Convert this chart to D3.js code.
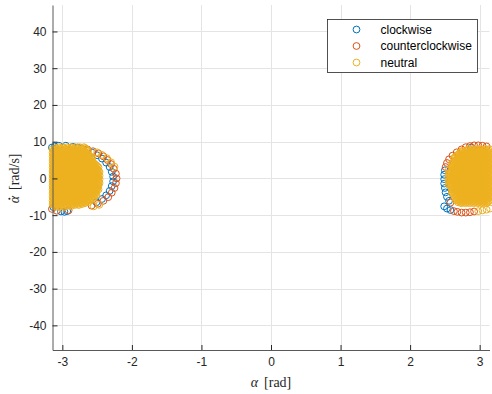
<!DOCTYPE html>
<html>
<head>
<meta charset="utf-8">
<script src="https://cdn.jsdelivr.net/npm/d3@7"></script>
<style>
  html, body { margin: 0; padding: 0; background: #fff; }
  svg { display: block; }
</style>
</head>
<body>
<svg id="chart" width="492" height="394"></svg>
<script>
// Axis ticks
const xTicks = [-3, -2, -1, 0, 1, 2, 3];
const yTicks = [-40, -30, -20, -10, 0, 10, 20, 30, 40];
const alphaLimits = [-Math.PI, Math.PI];
const alphaDotLimits = [-46.7, 47.2];

// Legend entries
const seriesNames = ["clockwise", "counterclockwise", "neutral"];
const seriesColors = ["#0072BD", "#D95319", "#EDB120"];

// Samples near the inverted position, [alpha, alphaDot]
const clockwise = [
  // left cluster, outer orbit
  [-2.72, 8.1], [-2.64, 7.6], [-2.57, 7.0], [-2.50, 6.3], [-2.43, 5.4], [-2.37, 4.3],
  [-2.32, 3.1], [-2.29, 1.8], [-2.27, 0.5], [-2.27, -0.8], [-2.29, -2.1], [-2.32, -3.4],
  [-2.37, -4.6], [-2.43, -5.6], [-2.51, -6.5],
  // left cluster, top and bottom rims
  [-3.15, 8.4], [-3.11, 8.7], [-3.05, 8.9], [-2.95, 8.9], [-2.85, 8.6], [-2.78, 8.4],
  [-3.13, -7.8], [-3.02, -9.0], [-2.97, -9.1], [-2.93, -8.9],
  // right cluster, left rim and bottom
  [2.50, 2.2], [2.49, 1.0], [2.49, -0.2], [2.49, -1.4], [2.50, -2.6], [2.51, -3.8],
  [2.53, -5.0], [2.56, -6.1], [2.49, -7.6], [2.53, -8.2], [2.58, -8.6], [2.88, 8.4]
];

const counterclockwise = [
  // left cluster, outer orbit
  [-2.64, 7.9], [-2.56, 7.4], [-2.48, 6.8], [-2.41, 6.0], [-2.35, 5.0], [-2.30, 3.9],
  [-2.26, 2.6], [-2.23, 1.3], [-2.22, 0.0], [-2.23, -1.3], [-2.25, -2.6], [-2.29, -3.9],
  [-2.34, -5.1], [-2.41, -6.1], [-2.49, -6.9], [-2.58, -7.4],
  // left cluster, bottom rim
  [-3.15, -8.3], [-3.08, -8.8], [-2.91, -8.7],
  // right cluster, top rim and upper-left edge
  [2.80, 8.5], [2.86, 8.8], [2.92, 9.0], [2.98, 9.0], [3.04, 8.9], [3.10, 8.7],
  [2.74, 7.9], [2.67, 7.1], [2.61, 6.2], [2.56, 5.2], [2.53, 4.2], [2.51, 3.1],
  // right cluster, bottom rim
  [2.63, -8.9], [2.68, -9.1], [2.74, -9.3], [2.80, -9.3], [2.86, -9.2], [2.92, -9.0], [2.58, -6.6]
];

// Neutral samples, grouped by alphaDot row: [alphaDot, [alpha, ...]]
const neutralLeftRows = [
  [8.5, [-3.05, -2.99, -2.93, -2.87, -2.81, -2.75, -2.69]],
  [8.25, [-3.095, -3.035, -2.975, -2.915, -2.855, -2.795, -2.735, -2.675]],
  [8.0, [-3.14, -3.08, -3.02, -2.96, -2.90, -2.84, -2.78, -2.72, -2.66]],
  [7.75, [-3.125, -3.065, -3.005, -2.945, -2.885, -2.825, -2.765, -2.705, -2.645]],
  [7.5, [-3.11, -3.05, -2.99, -2.93, -2.87, -2.81, -2.75, -2.69, -2.63]],
  [7.25, [-3.095, -3.035, -2.975, -2.915, -2.855, -2.795, -2.735, -2.675]],
  [7.0, [-3.14, -3.08, -3.02, -2.96, -2.90, -2.84, -2.78, -2.72, -2.66]],
  [6.75, [-3.125, -3.065, -3.005, -2.945, -2.885, -2.825, -2.765, -2.705, -2.645]],
  [6.5, [-3.11, -3.05, -2.99, -2.93, -2.87, -2.81, -2.75, -2.69, -2.63]],
  [6.25, [-3.095, -3.035, -2.975, -2.915, -2.855, -2.795, -2.735, -2.675, -2.615]],
  [6.0, [-3.14, -3.08, -3.02, -2.96, -2.90, -2.84, -2.78, -2.72, -2.66, -2.60]],
  [5.75, [-3.125, -3.065, -3.005, -2.945, -2.885, -2.825, -2.765, -2.705, -2.645, -2.585]],
  [5.5, [-3.11, -3.05, -2.99, -2.93, -2.87, -2.81, -2.75, -2.69, -2.63, -2.57]],
  [5.25, [-3.095, -3.035, -2.975, -2.915, -2.855, -2.795, -2.735, -2.675, -2.615]],
  [5.0, [-3.14, -3.08, -3.02, -2.96, -2.90, -2.84, -2.78, -2.72, -2.66, -2.60]],
  [4.75, [-3.125, -3.065, -3.005, -2.945, -2.885, -2.825, -2.765, -2.705, -2.645, -2.585]],
  [4.5, [-3.11, -3.05, -2.99, -2.93, -2.87, -2.81, -2.75, -2.69, -2.63, -2.57]],
  [4.25, [-3.095, -3.035, -2.975, -2.915, -2.855, -2.795, -2.735, -2.675, -2.615, -2.555]],
  [4.0, [-3.14, -3.08, -3.02, -2.96, -2.90, -2.84, -2.78, -2.72, -2.66, -2.60, -2.54]],
  [3.75, [-3.125, -3.065, -3.005, -2.945, -2.885, -2.825, -2.765, -2.705, -2.645, -2.585, -2.525]],
  [3.5, [-3.11, -3.05, -2.99, -2.93, -2.87, -2.81, -2.75, -2.69, -2.63, -2.57, -2.51]],
  [3.25, [-3.095, -3.035, -2.975, -2.915, -2.855, -2.795, -2.735, -2.675, -2.615, -2.555, -2.495]],
  [3.0, [-3.14, -3.08, -3.02, -2.96, -2.90, -2.84, -2.78, -2.72, -2.66, -2.60, -2.54, -2.48]],
  [2.75, [-3.125, -3.065, -3.005, -2.945, -2.885, -2.825, -2.765, -2.705, -2.645, -2.585, -2.525]],
  [2.5, [-3.11, -3.05, -2.99, -2.93, -2.87, -2.81, -2.75, -2.69, -2.63, -2.57, -2.51]],
  [2.25, [-3.095, -3.035, -2.975, -2.915, -2.855, -2.795, -2.735, -2.675, -2.615, -2.555, -2.495]],
  [2.0, [-3.14, -3.08, -3.02, -2.96, -2.90, -2.84, -2.78, -2.72, -2.66, -2.60, -2.54, -2.48]],
  [1.75, [-3.125, -3.065, -3.005, -2.945, -2.885, -2.825, -2.765, -2.705, -2.645, -2.585, -2.525, -2.465]],
  [1.5, [-3.11, -3.05, -2.99, -2.93, -2.87, -2.81, -2.75, -2.69, -2.63, -2.57, -2.51]],
  [1.25, [-3.095, -3.035, -2.975, -2.915, -2.855, -2.795, -2.735, -2.675, -2.615, -2.555, -2.495]],
  [1.0, [-3.14, -3.08, -3.02, -2.96, -2.90, -2.84, -2.78, -2.72, -2.66, -2.60, -2.54, -2.48]],
  [0.75, [-3.125, -3.065, -3.005, -2.945, -2.885, -2.825, -2.765, -2.705, -2.645, -2.585, -2.525, -2.465]],
  [0.5, [-3.11, -3.05, -2.99, -2.93, -2.87, -2.81, -2.75, -2.69, -2.63, -2.57, -2.51]],
  [0.25, [-3.095, -3.035, -2.975, -2.915, -2.855, -2.795, -2.735, -2.675, -2.615, -2.555, -2.495]],
  [0.0, [-3.14, -3.08, -3.02, -2.96, -2.90, -2.84, -2.78, -2.72, -2.66, -2.60, -2.54, -2.48]],
  [-0.25, [-3.125, -3.065, -3.005, -2.945, -2.885, -2.825, -2.765, -2.705, -2.645, -2.585, -2.525, -2.465]],
  [-0.5, [-3.11, -3.05, -2.99, -2.93, -2.87, -2.81, -2.75, -2.69, -2.63, -2.57, -2.51]],
  [-0.75, [-3.095, -3.035, -2.975, -2.915, -2.855, -2.795, -2.735, -2.675, -2.615, -2.555, -2.495]],
  [-1.0, [-3.14, -3.08, -3.02, -2.96, -2.90, -2.84, -2.78, -2.72, -2.66, -2.60, -2.54, -2.48]],
  [-1.25, [-3.125, -3.065, -3.005, -2.945, -2.885, -2.825, -2.765, -2.705, -2.645, -2.585, -2.525, -2.465]],
  [-1.5, [-3.11, -3.05, -2.99, -2.93, -2.87, -2.81, -2.75, -2.69, -2.63, -2.57, -2.51]],
  [-1.75, [-3.095, -3.035, -2.975, -2.915, -2.855, -2.795, -2.735, -2.675, -2.615, -2.555, -2.495]],
  [-2.0, [-3.14, -3.08, -3.02, -2.96, -2.90, -2.84, -2.78, -2.72, -2.66, -2.60, -2.54, -2.48]],
  [-2.25, [-3.125, -3.065, -3.005, -2.945, -2.885, -2.825, -2.765, -2.705, -2.645, -2.585, -2.525]],
  [-2.5, [-3.11, -3.05, -2.99, -2.93, -2.87, -2.81, -2.75, -2.69, -2.63, -2.57, -2.51]],
  [-2.75, [-3.095, -3.035, -2.975, -2.915, -2.855, -2.795, -2.735, -2.675, -2.615, -2.555, -2.495]],
  [-3.0, [-3.14, -3.08, -3.02, -2.96, -2.90, -2.84, -2.78, -2.72, -2.66, -2.60, -2.54, -2.48]],
  [-3.25, [-3.125, -3.065, -3.005, -2.945, -2.885, -2.825, -2.765, -2.705, -2.645, -2.585, -2.525]],
  [-3.5, [-3.11, -3.05, -2.99, -2.93, -2.87, -2.81, -2.75, -2.69, -2.63, -2.57, -2.51]],
  [-3.75, [-3.095, -3.035, -2.975, -2.915, -2.855, -2.795, -2.735, -2.675, -2.615, -2.555]],
  [-4.0, [-3.14, -3.08, -3.02, -2.96, -2.90, -2.84, -2.78, -2.72, -2.66, -2.60, -2.54]],
  [-4.25, [-3.125, -3.065, -3.005, -2.945, -2.885, -2.825, -2.765, -2.705, -2.645, -2.585, -2.525]],
  [-4.5, [-3.11, -3.05, -2.99, -2.93, -2.87, -2.81, -2.75, -2.69, -2.63, -2.57, -2.51]],
  [-4.75, [-3.095, -3.035, -2.975, -2.915, -2.855, -2.795, -2.735, -2.675, -2.615, -2.555]],
  [-5.0, [-3.14, -3.08, -3.02, -2.96, -2.90, -2.84, -2.78, -2.72, -2.66, -2.60, -2.54]],
  [-5.25, [-3.125, -3.065, -3.005, -2.945, -2.885, -2.825, -2.765, -2.705, -2.645, -2.585]],
  [-5.5, [-3.11, -3.05, -2.99, -2.93, -2.87, -2.81, -2.75, -2.69, -2.63, -2.57]],
  [-5.75, [-3.095, -3.035, -2.975, -2.915, -2.855, -2.795, -2.735, -2.675, -2.615]],
  [-6.0, [-3.14, -3.08, -3.02, -2.96, -2.90, -2.84, -2.78, -2.72, -2.66, -2.60]],
  [-6.25, [-3.125, -3.065, -3.005, -2.945, -2.885, -2.825, -2.765, -2.705, -2.645]],
  [-6.5, [-3.11, -3.05, -2.99, -2.93, -2.87, -2.81, -2.75, -2.69, -2.63]],
  [-6.75, [-3.095, -3.035, -2.975, -2.915, -2.855, -2.795, -2.735, -2.675]],
  [-7.0, [-3.14, -3.08, -3.02, -2.96, -2.90, -2.84, -2.78, -2.72]],
  [-7.25, [-3.125, -3.065, -3.005, -2.945, -2.885, -2.825, -2.765]],
  [-7.5, [-3.11, -3.05, -2.99, -2.93, -2.87]],
  [-7.75, [-3.095, -3.035, -2.975]]
];

const neutralRightRows = [
  [8.0, [2.84, 2.90, 2.96, 3.02, 3.08, 3.14]],
  [7.75, [2.825, 2.885, 2.945, 3.005, 3.065, 3.125]],
  [7.5, [2.75, 2.81, 2.87, 2.93, 2.99, 3.05, 3.11]],
  [7.25, [2.735, 2.795, 2.855, 2.915, 2.975, 3.035, 3.095]],
  [7.0, [2.72, 2.78, 2.84, 2.90, 2.96, 3.02, 3.08, 3.14]],
  [6.75, [2.705, 2.765, 2.825, 2.885, 2.945, 3.005, 3.065, 3.125]],
  [6.5, [2.69, 2.75, 2.81, 2.87, 2.93, 2.99, 3.05, 3.11]],
  [6.25, [2.675, 2.735, 2.795, 2.855, 2.915, 2.975, 3.035, 3.095]],
  [6.0, [2.66, 2.72, 2.78, 2.84, 2.90, 2.96, 3.02, 3.08, 3.14]],
  [5.75, [2.645, 2.705, 2.765, 2.825, 2.885, 2.945, 3.005, 3.065, 3.125]],
  [5.5, [2.63, 2.69, 2.75, 2.81, 2.87, 2.93, 2.99, 3.05, 3.11]],
  [5.25, [2.675, 2.735, 2.795, 2.855, 2.915, 2.975, 3.035, 3.095]],
  [5.0, [2.66, 2.72, 2.78, 2.84, 2.90, 2.96, 3.02, 3.08, 3.14]],
  [4.75, [2.645, 2.705, 2.765, 2.825, 2.885, 2.945, 3.005, 3.065, 3.125]],
  [4.5, [2.63, 2.69, 2.75, 2.81, 2.87, 2.93, 2.99, 3.05, 3.11]],
  [4.25, [2.615, 2.675, 2.735, 2.795, 2.855, 2.915, 2.975, 3.035, 3.095]],
  [4.0, [2.60, 2.66, 2.72, 2.78, 2.84, 2.90, 2.96, 3.02, 3.08, 3.14]],
  [3.75, [2.645, 2.705, 2.765, 2.825, 2.885, 2.945, 3.005, 3.065, 3.125]],
  [3.5, [2.63, 2.69, 2.75, 2.81, 2.87, 2.93, 2.99, 3.05, 3.11]],
  [3.25, [2.615, 2.675, 2.735, 2.795, 2.855, 2.915, 2.975, 3.035, 3.095]],
  [3.0, [2.60, 2.66, 2.72, 2.78, 2.84, 2.90, 2.96, 3.02, 3.08, 3.14]],
  [2.75, [2.645, 2.705, 2.765, 2.825, 2.885, 2.945, 3.005, 3.065, 3.125]],
  [2.5, [2.63, 2.69, 2.75, 2.81, 2.87, 2.93, 2.99, 3.05, 3.11]],
  [2.25, [2.555, 2.615, 2.675, 2.735, 2.795, 2.855, 2.915, 2.975, 3.035, 3.095]],
  [2.0, [2.60, 2.66, 2.72, 2.78, 2.84, 2.90, 2.96, 3.02, 3.08, 3.14]],
  [1.75, [2.585, 2.645, 2.705, 2.765, 2.825, 2.885, 2.945, 3.005, 3.065, 3.125]],
  [1.5, [2.57, 2.63, 2.69, 2.75, 2.81, 2.87, 2.93, 2.99, 3.05, 3.11]],
  [1.25, [2.555, 2.615, 2.675, 2.735, 2.795, 2.855, 2.915, 2.975, 3.035, 3.095]],
  [1.0, [2.60, 2.66, 2.72, 2.78, 2.84, 2.90, 2.96, 3.02, 3.08, 3.14]],
  [0.75, [2.585, 2.645, 2.705, 2.765, 2.825, 2.885, 2.945, 3.005, 3.065, 3.125]],
  [0.5, [2.57, 2.63, 2.69, 2.75, 2.81, 2.87, 2.93, 2.99, 3.05, 3.11]],
  [0.25, [2.555, 2.615, 2.675, 2.735, 2.795, 2.855, 2.915, 2.975, 3.035, 3.095]],
  [0.0, [2.60, 2.66, 2.72, 2.78, 2.84, 2.90, 2.96, 3.02, 3.08, 3.14]],
  [-0.25, [2.585, 2.645, 2.705, 2.765, 2.825, 2.885, 2.945, 3.005, 3.065, 3.125]],
  [-0.5, [2.57, 2.63, 2.69, 2.75, 2.81, 2.87, 2.93, 2.99, 3.05, 3.11]],
  [-0.75, [2.555, 2.615, 2.675, 2.735, 2.795, 2.855, 2.915, 2.975, 3.035, 3.095]],
  [-1.0, [2.60, 2.66, 2.72, 2.78, 2.84, 2.90, 2.96, 3.02, 3.08, 3.14]],
  [-1.25, [2.585, 2.645, 2.705, 2.765, 2.825, 2.885, 2.945, 3.005, 3.065, 3.125]],
  [-1.5, [2.57, 2.63, 2.69, 2.75, 2.81, 2.87, 2.93, 2.99, 3.05, 3.11]],
  [-1.75, [2.555, 2.615, 2.675, 2.735, 2.795, 2.855, 2.915, 2.975, 3.035, 3.095]],
  [-2.0, [2.60, 2.66, 2.72, 2.78, 2.84, 2.90, 2.96, 3.02, 3.08, 3.14]],
  [-2.25, [2.585, 2.645, 2.705, 2.765, 2.825, 2.885, 2.945, 3.005, 3.065, 3.125]],
  [-2.5, [2.63, 2.69, 2.75, 2.81, 2.87, 2.93, 2.99, 3.05, 3.11]],
  [-2.75, [2.615, 2.675, 2.735, 2.795, 2.855, 2.915, 2.975, 3.035, 3.095]],
  [-3.0, [2.60, 2.66, 2.72, 2.78, 2.84, 2.90, 2.96, 3.02, 3.08, 3.14]],
  [-3.25, [2.645, 2.705, 2.765, 2.825, 2.885, 2.945, 3.005, 3.065, 3.125]],
  [-3.5, [2.63, 2.69, 2.75, 2.81, 2.87, 2.93, 2.99, 3.05, 3.11]],
  [-3.75, [2.615, 2.675, 2.735, 2.795, 2.855, 2.915, 2.975, 3.035, 3.095]],
  [-4.0, [2.60, 2.66, 2.72, 2.78, 2.84, 2.90, 2.96, 3.02, 3.08, 3.14]],
  [-4.25, [2.645, 2.705, 2.765, 2.825, 2.885, 2.945, 3.005, 3.065, 3.125]],
  [-4.5, [2.63, 2.69, 2.75, 2.81, 2.87, 2.93, 2.99, 3.05, 3.11]],
  [-4.75, [2.675, 2.735, 2.795, 2.855, 2.915, 2.975, 3.035, 3.095]],
  [-5.0, [2.66, 2.72, 2.78, 2.84, 2.90, 2.96, 3.02, 3.08, 3.14]],
  [-5.25, [2.645, 2.705, 2.765, 2.825, 2.885, 2.945, 3.005, 3.065, 3.125]],
  [-5.5, [2.69, 2.75, 2.81, 2.87, 2.93, 2.99, 3.05, 3.11]],
  [-5.75, [2.675, 2.735, 2.795, 2.855, 2.915, 2.975, 3.035, 3.095]],
  [-6.0, [2.66, 2.72, 2.78, 2.84, 2.90, 2.96, 3.02, 3.08, 3.14]],
  [-6.25, [2.705, 2.765, 2.825, 2.885, 2.945, 3.005, 3.065, 3.125]],
  [-6.5, [2.69, 2.75, 2.81, 2.87, 2.93, 2.99, 3.05, 3.11]],
  [-6.75, [2.735, 2.795, 2.855, 2.915, 2.975, 3.035, 3.095]]
];

// Neutral samples on the outer orbits
const neutralOuter = [
  [-2.50, 7.1], [-2.43, 6.4], [-2.36, 5.5], [-2.30, 4.4], [-2.25, 3.2],
  [-2.47, -7.2], [-2.55, -7.6],
  [2.98, -8.9], [3.04, -8.7], [3.10, -8.5], [3.15, -8.2]
];

// Flatten the row tables into [alpha, alphaDot] pairs
const rowsToPoints = rows => rows.flatMap(([yd, xs]) => xs.map(a => [a, yd]));
const neutral = rowsToPoints(neutralLeftRows)
  .concat(rowsToPoints(neutralRightRows))
  .concat(neutralOuter);

const seriesData = [clockwise, counterclockwise, neutral];

// ---------- layout ----------
const svg = d3.select("#chart");
const plot = { left: 52.5, right: 489.5, top: 5, bottom: 350 };

const x = d3.scaleLinear().domain(alphaLimits).range([plot.left, plot.right]);
const y = d3.scaleLinear().domain(alphaDotLimits).range([plot.bottom, plot.top]);

const axisColor = "#262626";
const gridColor = "#e4e4e4";
const sans = "'Liberation Sans', Arial, Helvetica, sans-serif";
const serif = "'Liberation Serif', 'Times New Roman', serif";

// grid
const grid = svg.append("g");
grid.selectAll("line.gx").data(xTicks).join("line")
  .attr("x1", d => Math.round(x(d)) + 0.5).attr("x2", d => Math.round(x(d)) + 0.5)
  .attr("y1", plot.top).attr("y2", plot.bottom)
  .attr("stroke", gridColor).attr("stroke-width", 1);
grid.selectAll("line.gy").data(yTicks).join("line")
  .attr("y1", d => Math.round(y(d)) + 0.5).attr("y2", d => Math.round(y(d)) + 0.5)
  .attr("x1", plot.left).attr("x2", plot.right)
  .attr("stroke", gridColor).attr("stroke-width", 1);

// markers: clockwise, then counterclockwise, then neutral on top
seriesData.forEach((pts, i) => {
  svg.append("g")
    .selectAll("circle").data(pts).join("circle")
    .attr("cx", d => x(d[0]))
    .attr("cy", d => y(d[1]))
    .attr("r", 3.4)
    .attr("fill", "none")
    .attr("stroke", seriesColors[i])
    .attr("stroke-width", 1);
});

// axes with inward ticks
const xAxis = d3.axisBottom(x).tickValues(xTicks).tickFormat(d => String(d))
  .tickSizeInner(-5).tickSizeOuter(0).tickPadding(7);
const yAxis = d3.axisLeft(y).tickValues(yTicks).tickFormat(d => String(d))
  .tickSizeInner(-5).tickSizeOuter(0).tickPadding(6);

const gx = svg.append("g").attr("transform", `translate(0,${plot.bottom})`).call(xAxis);
const gy = svg.append("g").attr("transform", `translate(${plot.left},0)`).call(yAxis);

[gx, gy].forEach(g => {
  g.select(".domain").attr("stroke", "#595959").attr("stroke-width", 1);
  g.selectAll(".tick line").attr("stroke", axisColor).attr("stroke-width", 1);
  g.selectAll(".tick text").attr("fill", axisColor)
    .style("font-family", sans).style("font-size", "12px");
});

// axis titles
const xTitle = svg.append("text")
  .attr("x", x(0)).attr("y", 387)
  .attr("text-anchor", "middle")
  .style("font-family", serif).style("font-size", "14px").attr("fill", axisColor);
xTitle.append("tspan").style("font-style", "italic").text("α");
xTitle.append("tspan").attr("dx", 6).text("[rad]");

// y title: alpha with a dot accent, rotated
const yTitleG = svg.append("g").attr("transform", `translate(19,${y(0)}) rotate(-90)`);
const yTitle = yTitleG.append("text")
  .style("font-family", serif).style("font-size", "14px").attr("fill", axisColor);
yTitle.append("tspan").style("font-style", "italic").text("α");
yTitle.append("tspan").attr("dx", 6).text("[rad/s]");
const titleLen = yTitle.node().getComputedTextLength() + 6;
const x0 = -titleLen / 2;
yTitle.attr("x", x0);
const alphaW = yTitle.node().getSubStringLength(0, 1);
yTitleG.append("circle")
  .attr("cx", x0 + alphaW * 0.62).attr("cy", -9.6).attr("r", 1.05)
  .attr("fill", axisColor);

// legend
const legend = svg.append("g");
legend.append("rect")
  .attr("x", 327.5).attr("y", 19.5).attr("width", 150).attr("height", 53)
  .attr("fill", "#fff").attr("stroke", axisColor).attr("stroke-width", 0.8);
const rowY = [29.5, 46, 62.5];
seriesNames.forEach((name, i) => {
  legend.append("circle")
    .attr("cx", 356.5).attr("cy", rowY[i]).attr("r", 3.4)
    .attr("fill", "none").attr("stroke", seriesColors[i]).attr("stroke-width", 1);
  legend.append("text")
    .attr("x", 380.5).attr("y", rowY[i]).attr("dy", "0.35em")
    .style("font-family", sans).style("font-size", "12px")
    .attr("fill", "#000").text(name);
});
</script>
</body>
</html>
